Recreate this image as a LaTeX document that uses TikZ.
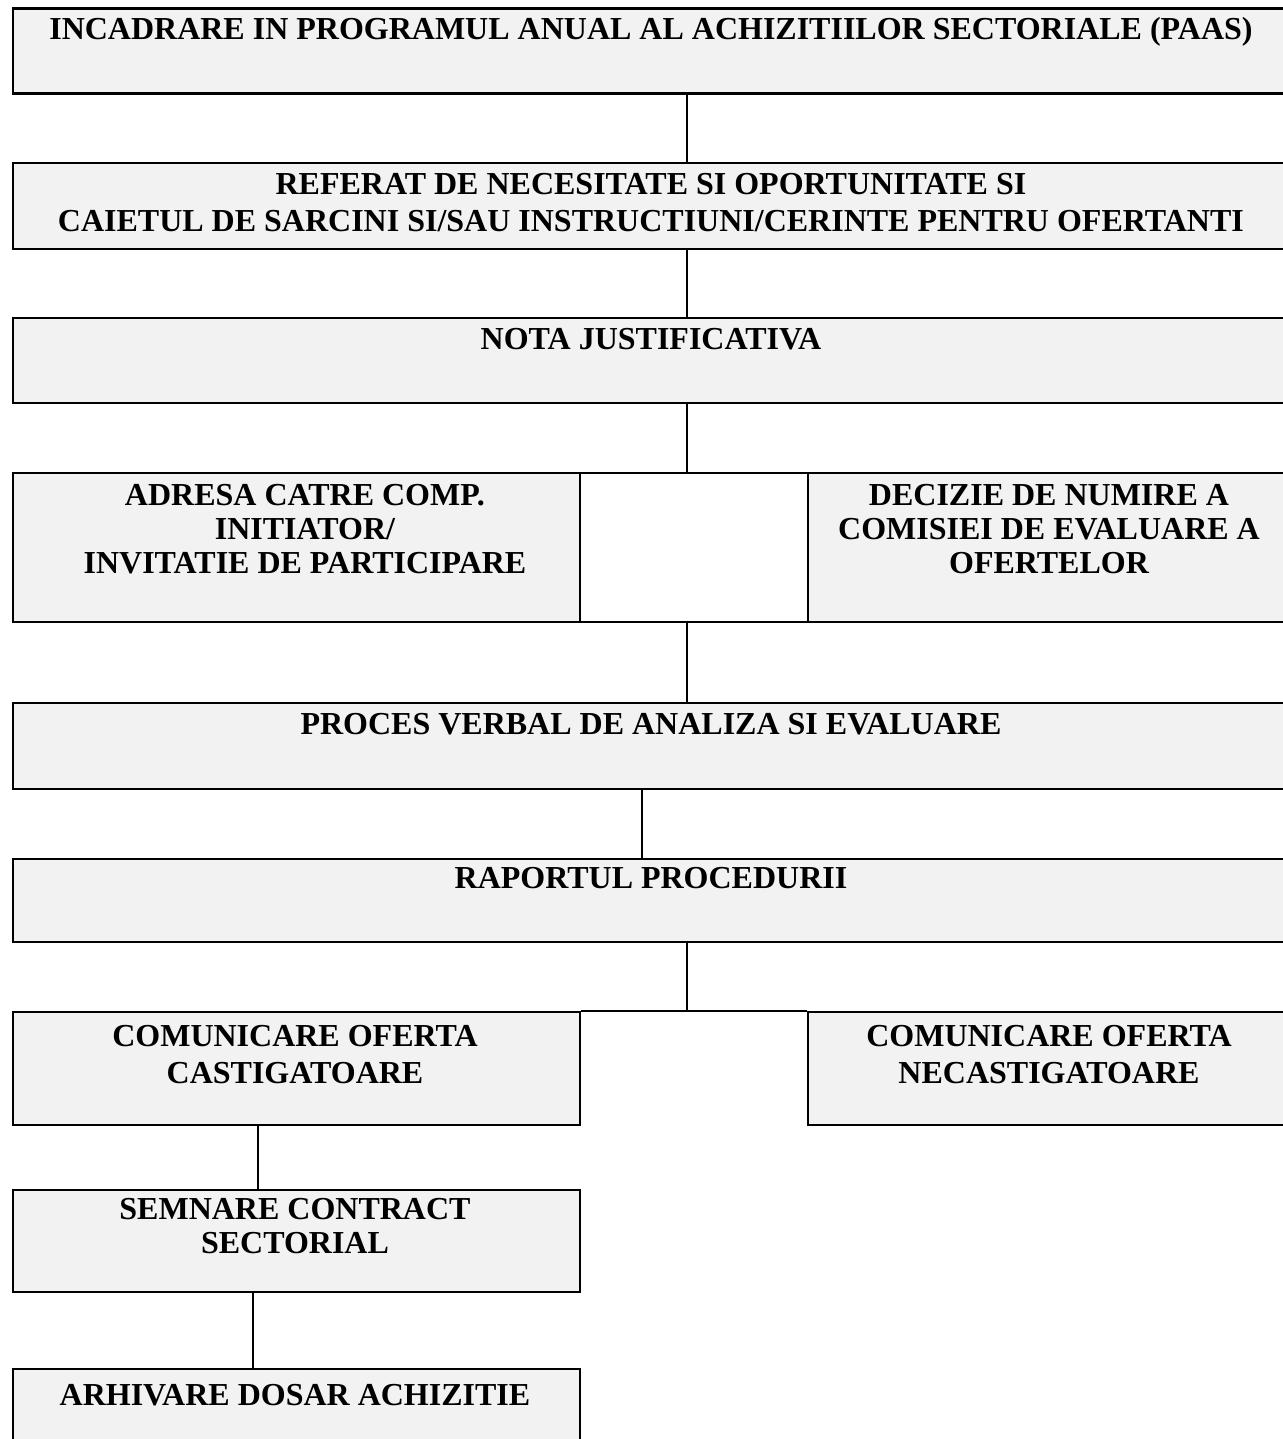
\documentclass[tikz,border=0pt]{standalone}
\usepackage{fontspec}
\setmainfont{Liberation Serif}
\definecolor{boxgray}{HTML}{F2F2F2}
\begin{document}
\begin{tikzpicture}[x=0.5pt,y=-0.5pt,
  box/.style={draw, line width=1.1pt, fill=boxgray, inner sep=0pt, anchor=north west},
  cell/.style={draw, line width=1.1pt, fill=white, inner sep=0pt, anchor=north west},
  lbl/.style={font=\bfseries\fontsize{16}{18.5}\selectfont, align=center, anchor=north, inner sep=0pt},
  lbltight/.style={lbl, font=\bfseries\fontsize{16}{17}\selectfont},
  conn/.style={line width=1.1pt}]
\useasboundingbox[fill=white] (0,0) rectangle (1282,1439);

% boxes
\node[box, minimum width=639pt, minimum height=42.5pt] (b1) at (12,7.5) {};
\node[box, minimum width=639pt, minimum height=43pt] (b2) at (12,162) {};
\node[box, minimum width=639pt, minimum height=42.5pt] (b3) at (12,317) {};
\node[box, minimum width=283.5pt, minimum height=74.5pt] (b4l) at (12,472) {};
\node[cell, minimum width=114pt, minimum height=74.5pt] (b4m) at (579,472) {};
\node[box, minimum width=241.5pt, minimum height=74.5pt] (b4r) at (807,472) {};
\node[box, minimum width=639pt, minimum height=43pt] (b5) at (12,702) {};
\node[box, minimum width=639pt, minimum height=41.5pt] (b6) at (12,858) {};
\node[box, minimum width=283.5pt, minimum height=56.5pt] (b7l) at (12,1011) {};
\node[box, minimum width=241.5pt, minimum height=56.5pt] (b7r) at (807,1011) {};
\node[box, minimum width=283.5pt, minimum height=51pt] (b8) at (12,1189) {};
\node[box, minimum width=283.5pt, minimum height=50pt] (b9) at (12,1368) {};

% texts
\node[lbl] (t1) at (651,17) {INCADRARE IN PROGRAMUL ANUAL AL ACHIZITIILOR SECTORIALE (PAAS)};
\node[lbl] (t2) at (651,173) {REFERAT DE NECESITATE SI OPORTUNITATE SI\\CAIETUL DE SARCINI SI/SAU INSTRUCTIUNI/CERINTE PENTRU OFERTANTI};
\node[lbl] (t3) at (651,328) {NOTA JUSTIFICATIVA};
\node[lbltight] (t4l) at (305,484) {ADRESA CATRE COMP.\\INITIATOR/\\INVITATIE DE PARTICIPARE};
\node[lbltight] (t4r) at (1049,484) {DECIZIE DE NUMIRE A\\COMISIEI DE EVALUARE A\\OFERTELOR};
\node[lbl] (t5) at (651,713) {PROCES VERBAL DE ANALIZA SI EVALUARE};
\node[lbl] (t6) at (651,867) {RAPORTUL PROCEDURII};
\node[lbl] (t7l) at (295,1025) {COMUNICARE OFERTA\\CASTIGATOARE};
\node[lbl] (t7r) at (1049,1025) {COMUNICARE OFERTA\\NECASTIGATOARE};
\node[lbltight] (t8) at (295,1198) {SEMNARE CONTRACT\\SECTORIAL};
\node[lbl] (t9) at (295,1384) {ARHIVARE DOSAR ACHIZITIE};

% connector x positions
\coordinate (cA) at (687,0);
\coordinate (cB) at (642,0);
\coordinate (cC) at (258,0);
\coordinate (cD) at (253,0);

\draw[conn] (b1.south -| cA) -- (b2.north -| cA);
\draw[conn] (b2.south -| cA) -- (b3.north -| cA);
\draw[conn] (b3.south -| cA) -- (b4m.north -| cA);
\draw[conn] (b4m.south -| cA) -- (b5.north -| cA);
\draw[conn] (b5.south -| cB) -- (b6.north -| cB);
\draw[conn] (b7l.north east) -- (b7r.north west);
\draw[conn] (b6.south -| cA) -- (b7l.north east -| cA);
\draw[conn] (b7l.south -| cC) -- (b8.north -| cC);
\draw[conn] (b8.south -| cD) -- (b9.north -| cD);
\end{tikzpicture}
\end{document}
